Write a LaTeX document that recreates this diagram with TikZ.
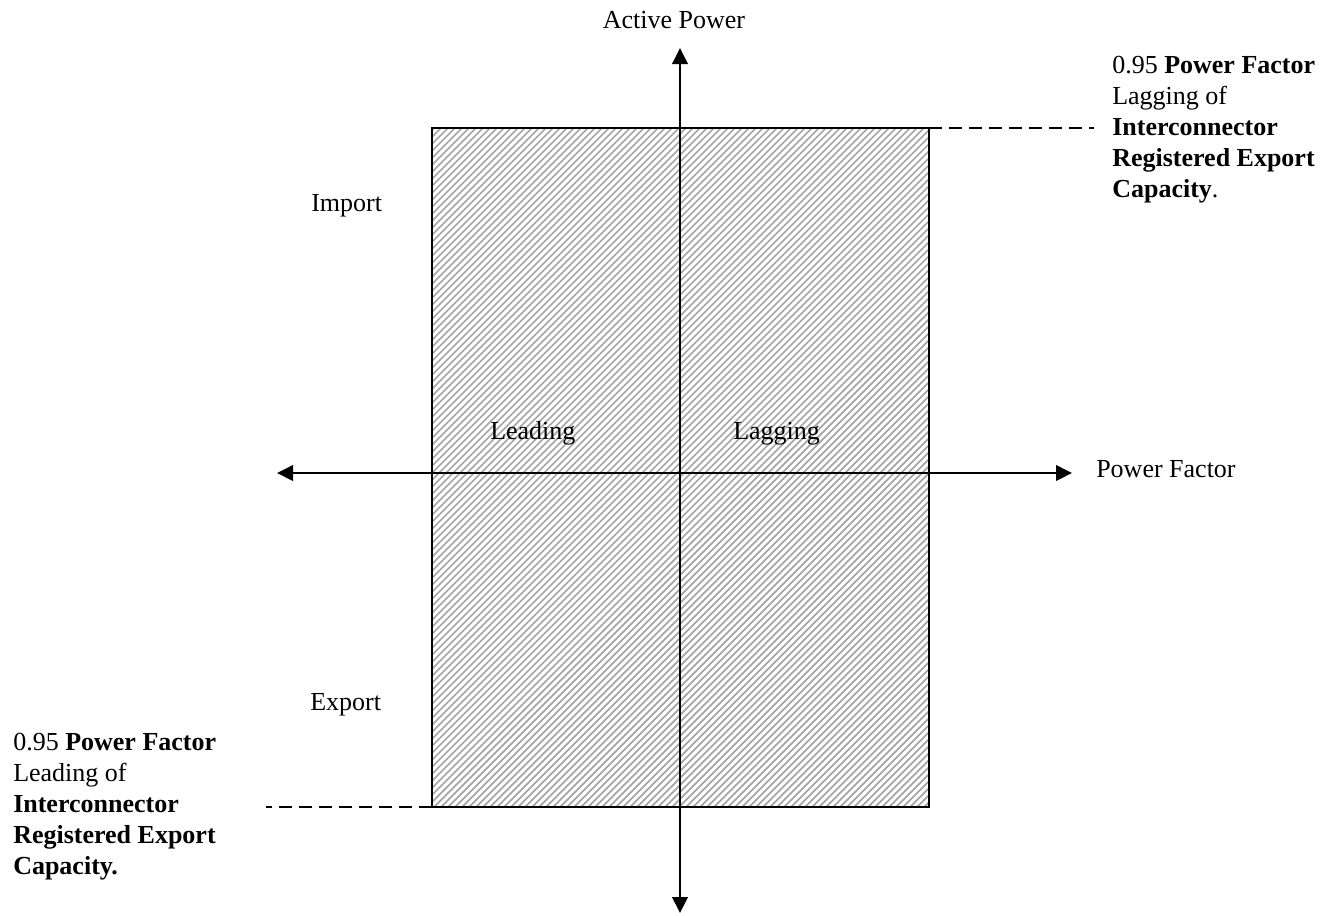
\documentclass[tikz,border=0pt]{standalone}
\usepackage{fontspec}
\setmainfont{Liberation Serif}
\usetikzlibrary{arrows.meta}
\begin{document}
\begin{tikzpicture}[x=0.75pt,y=-0.75pt,
  lbl/.style={inner sep=0pt, font=\fontsize{19.5}{23.25}\selectfont},
  blk/.style={lbl, align=left, anchor=base west},
  axis/.style={line width=2pt, {Triangle[length=12pt,width=11.5pt]}-{Triangle[length=12pt,width=11.5pt]}},
  guide/.style={line width=1.5pt, dash pattern=on 10pt off 5pt},
  frame/.style={line width=1.5pt},
  hatch/.style={line width=1.3pt, black!35}]
\useasboundingbox (0,0) rectangle (1341,915);
% corners of the operating region
\coordinate (tl) at (432,128);
\coordinate (br) at (929,807);
\coordinate (tr) at (929,128);
\coordinate (bl) at (432,807);
% hatch
\begin{scope}
  \clip (tl) rectangle (br);
  \foreach \a in {-252,-245,...,935}
    \draw[hatch] (\a,807) -- ++(679,-679);
\end{scope}
\draw[frame] (tl) rectangle (br);
% axes
\coordinate (vtop) at (680,48);
\coordinate (vbot) at (680,913);
\coordinate (hleft) at (277,473);
\coordinate (hright) at (1072,473);
\draw[axis] (vbot) -- (vtop);
\draw[axis] (hleft) -- (hright);
% dashed guides
\coordinate (trend) at (1094,128);
\coordinate (blend) at (266,807);
\draw[guide] (tr) -- (trend);
\draw[guide] (bl) -- (blend);
% labels
\node[lbl, anchor=base] (ap) at (674,28) {Active Power};
\node[lbl, anchor=base west] (imp) at (311,211) {Import};
\node[lbl, anchor=base west] (exp) at (310,710) {Export};
\node[lbl, anchor=base west] (lead) at (490,439) {Leading};
\node[lbl, anchor=base west] (lag) at (733,439) {Lagging};
\node[lbl, anchor=base west] (pf) at (1096,477) {Power Factor};
\node[blk] (trtext) at (1112,197) {0.95 \textbf{Power Factor}\\Lagging of\\\textbf{Interconnector}\\\textbf{Registered Export}\\\textbf{Capacity}.};
\node[blk] (bltext) at (13,874) {0.95 \textbf{Power Factor}\\Leading of\\\textbf{Interconnector}\\\textbf{Registered Export}\\\textbf{Capacity.}};
\end{tikzpicture}
\end{document}
